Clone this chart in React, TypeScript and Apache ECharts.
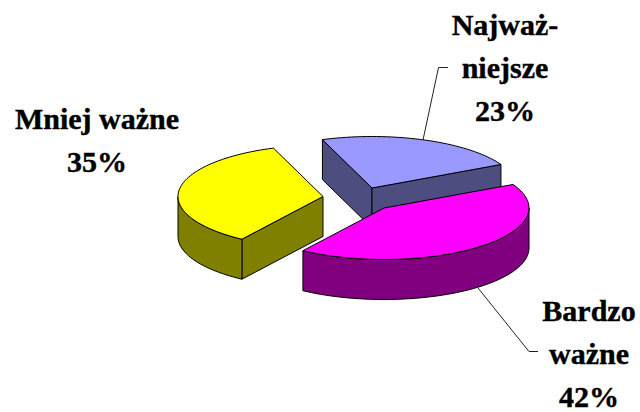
import React, { useEffect, useRef } from "react";
import * as echarts from "echarts";

const categories = ["Najważ-\nniejsze", "Bardzo\nważne", "Mniej ważne"];
const shares = [23, 42, 35];

const topColors = ["#9999FF", "#FF00FF", "#FFFF00"];
const sideColors = ["#4D4D80", "#800080", "#808000"];
const centers = [[372, 188], [384, 208], [323, 196.5]];
const labelPositions = [[505, 3], [589, 289], [97, 97]];

const RX = 145;
const RY = 51.5;
const DEPTH = 40;
const START_DEG = -110;
const total = shares.reduce((a, b) => a + b, 0);
const rad = (d: number) => (d * Math.PI) / 180;

function renderSlice(params: any, api: any) {
  const i = params.dataIndex;
  const value = api.value(0);
  const before = shares.slice(0, i).reduce((a, b) => a + b, 0);
  const a0 = START_DEG + (before / total) * 360;
  const a1 = a0 + (value / total) * 360;
  const [cx, cy] = centers[i];
  const pt = (a: number, dy = 0) => [cx + RX * Math.cos(rad(a)), cy + RY * Math.sin(rad(a)) + dy];
  const arc = (from: number, to: number, dy = 0) => {
    const n = Math.max(2, Math.ceil(Math.abs(to - from) / 2));
    const out: number[][] = [];
    for (let k = 0; k <= n; k++) out.push(pt(from + ((to - from) * k) / n, dy));
    return out;
  };
  const style = (fill: string) => ({ fill, stroke: "#000", lineWidth: 1, lineJoin: "round" });
  const children: any[] = [];
  const side = style(sideColors[i]);
  const radial = (a: number) => ({
    type: "polygon",
    shape: { points: [[cx, cy], pt(a), pt(a, DEPTH), [cx, cy + DEPTH]] },
    style: side,
  });
  if (Math.cos(rad(a0)) < 0) children.push(radial(a0));
  if (Math.cos(rad(a1)) > 0) children.push(radial(a1));
  // outer wall: only the part of the rim that faces the viewer (0 to 180 deg)
  for (const shift of [-360, 0, 360]) {
    const from = Math.max(a0, shift);
    const to = Math.min(a1, shift + 180);
    if (to > from) {
      children.push({
        type: "polygon",
        shape: { points: [...arc(from, to), ...arc(to, from, DEPTH)] },
        style: side,
      });
    }
  }
  children.push({
    type: "polygon",
    shape: { points: [[cx, cy], ...arc(a0, a1)] },
    style: style(topColors[i]),
  });
  return { type: "group", children };
}

export default function App() {
  const ref = useRef<HTMLDivElement>(null);
  useEffect(() => {
    document.body.style.margin = "0";
    const chart = echarts.init(ref.current!, undefined, { renderer: "svg" });
    const leader = (points: number[][]) => ({
      type: "polyline",
      shape: { points },
      style: { stroke: "#222", lineWidth: 1, fill: "none" },
      z: 5,
    });
    chart.setOption({
      animation: false,
      backgroundColor: "#fff",
      series: [
        {
          type: "custom",
          coordinateSystem: "none",
          renderItem: renderSlice,
          data: shares.map((v, i) => ({ name: categories[i].replace("-\n", "").replace("\n", " "), value: [v] })),
          silent: true,
        },
      ],
      graphic: [
        leader([[423, 140], [438.5, 67.5], [448, 67.5]]),
        leader([[478, 288], [529, 351.5], [538, 351.5]]),
        ...categories.map((c, i) => ({
          type: "text",
          x: labelPositions[i][0],
          y: labelPositions[i][1],
          z: 6,
          style: {
            text: `${c}\n${shares[i]}%`,
            fontFamily: "Liberation Serif",
            fontWeight: "bold",
            fontSize: 30,
            lineHeight: 43,
            fill: "#000",
            stroke: "#000",
            lineWidth: 0.4,
            align: "center",
            verticalAlign: "top",
          },
        })),
      ],
    });
    return () => chart.dispose();
  }, []);
  return <div ref={ref} style={{ position: "absolute", left: 0, top: 0, width: 640, height: 412 }} />;
}
